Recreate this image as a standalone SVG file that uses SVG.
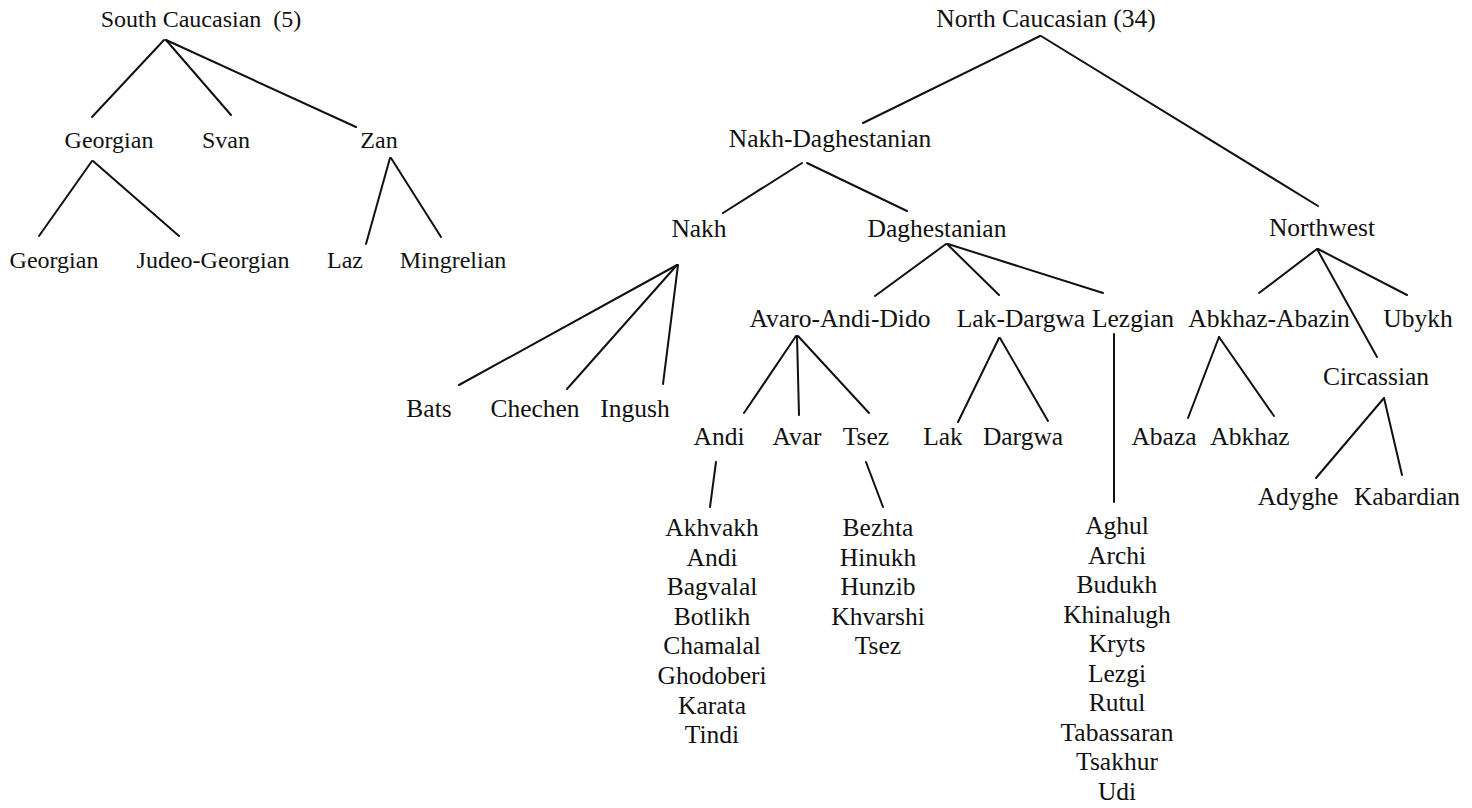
<svg xmlns="http://www.w3.org/2000/svg" width="1472" height="808" viewBox="0 0 1472 808">
<style>
text{font-family:"Liberation Serif","Times New Roman",serif;fill:#111;text-anchor:middle}
.s{font-size:24px}
.n{font-size:25.5px}
#edges line{stroke:#111;stroke-width:2;stroke-linecap:round}
</style>
<rect width="1472" height="808" fill="#fff"/>
<g id="edges">
<line x1="164" y1="40" x2="92" y2="117"/>
<line x1="166" y1="40" x2="231" y2="115"/>
<line x1="166" y1="40" x2="356" y2="127"/>
<line x1="92" y1="161" x2="39" y2="236"/>
<line x1="93" y1="161" x2="179" y2="236"/>
<line x1="390" y1="158" x2="366" y2="244"/>
<line x1="391" y1="158" x2="441" y2="237"/>
<line x1="1040" y1="36" x2="863" y2="123"/>
<line x1="1041" y1="36" x2="1318" y2="206"/>
<line x1="802" y1="163" x2="723" y2="213"/>
<line x1="807" y1="163" x2="907" y2="211"/>
<line x1="946" y1="244" x2="875" y2="296"/>
<line x1="947" y1="244" x2="999" y2="295"/>
<line x1="948" y1="244" x2="1103" y2="293"/>
<line x1="677" y1="265" x2="459" y2="385"/>
<line x1="677" y1="265" x2="567" y2="389"/>
<line x1="678" y1="265" x2="663" y2="384"/>
<line x1="796" y1="336" x2="744" y2="413"/>
<line x1="797" y1="336" x2="799" y2="415"/>
<line x1="798" y1="336" x2="869" y2="413"/>
<line x1="999" y1="338" x2="958" y2="422"/>
<line x1="1000" y1="338" x2="1048" y2="421"/>
<line x1="1114" y1="334" x2="1114" y2="502"/>
<line x1="1317" y1="249" x2="1259" y2="293"/>
<line x1="1317" y1="249" x2="1377" y2="357"/>
<line x1="1318" y1="249" x2="1407" y2="295"/>
<line x1="1219" y1="337" x2="1188" y2="418"/>
<line x1="1219" y1="337" x2="1274" y2="416"/>
<line x1="1384" y1="398" x2="1316" y2="478"/>
<line x1="1384" y1="398" x2="1402" y2="475"/>
<line x1="716" y1="462" x2="710" y2="507"/>
<line x1="866" y1="462" x2="883" y2="507"/>
</g>
<g id="south-caucasian"><text class="s" x="201" y="27" xml:space="preserve">South Caucasian  (5)</text></g>
<g id="georgian-branch"><text class="s" x="109" y="148">Georgian</text></g>
<g id="svan"><text class="s" x="226" y="148">Svan</text></g>
<g id="zan"><text class="s" x="379" y="148">Zan</text></g>
<g id="georgian"><text class="s" x="54" y="268">Georgian</text></g>
<g id="judeo-georgian"><text class="s" x="213" y="268">Judeo-Georgian</text></g>
<g id="laz"><text class="s" x="345" y="268">Laz</text></g>
<g id="mingrelian"><text class="s" x="453" y="268">Mingrelian</text></g>

<g id="north-caucasian"><text class="n" x="1046" y="27">North Caucasian (34)</text></g>
<g id="nakh-daghestanian"><text class="n" x="830" y="147">Nakh-Daghestanian</text></g>
<g id="nakh"><text class="n" x="699" y="237">Nakh</text></g>
<g id="daghestanian"><text class="n" x="937" y="237">Daghestanian</text></g>
<g id="northwest"><text class="n" x="1322" y="236">Northwest</text></g>
<g id="avaro-andi-dido"><text class="n" x="840" y="327">Avaro-Andi-Dido</text></g>
<g id="lak-dargwa"><text class="n" x="1021" y="327">Lak-Dargwa</text></g>
<g id="lezgian"><text class="n" x="1133" y="327">Lezgian</text></g>
<g id="abkhaz-abazin"><text class="n" x="1269" y="327">Abkhaz-Abazin</text></g>
<g id="ubykh"><text class="n" x="1418" y="327">Ubykh</text></g>
<g id="circassian"><text class="n" x="1376" y="385">Circassian</text></g>
<g id="bats"><text class="n" x="429" y="417">Bats</text></g>
<g id="chechen"><text class="n" x="535" y="417">Chechen</text></g>
<g id="ingush"><text class="n" x="635" y="417">Ingush</text></g>
<g id="andi-group"><text class="n" x="719" y="445">Andi</text></g>
<g id="avar"><text class="n" x="797" y="445">Avar</text></g>
<g id="tsez-group"><text class="n" x="866" y="445">Tsez</text></g>
<g id="lak"><text class="n" x="943" y="445">Lak</text></g>
<g id="dargwa"><text class="n" x="1023" y="445">Dargwa</text></g>
<g id="abaza"><text class="n" x="1164" y="445">Abaza</text></g>
<g id="abkhaz"><text class="n" x="1250" y="445">Abkhaz</text></g>
<g id="adyghe"><text class="n" x="1298" y="505">Adyghe</text></g>
<g id="kabardian"><text class="n" x="1407" y="505">Kabardian</text></g>
<g id="andi-list">
<text class="n" x="712" y="536">Akhvakh</text>
<text class="n" x="712" y="565.6">Andi</text>
<text class="n" x="712" y="595.2">Bagvalal</text>
<text class="n" x="712" y="624.8">Botlikh</text>
<text class="n" x="712" y="654.4">Chamalal</text>
<text class="n" x="712" y="684">Ghodoberi</text>
<text class="n" x="712" y="713.6">Karata</text>
<text class="n" x="712" y="743.2">Tindi</text>
</g>
<g id="tsez-list">
<text class="n" x="878" y="536">Bezhta</text>
<text class="n" x="878" y="565.6">Hinukh</text>
<text class="n" x="878" y="595.2">Hunzib</text>
<text class="n" x="878" y="624.8">Khvarshi</text>
<text class="n" x="878" y="654.4">Tsez</text>
</g>
<g id="lezgian-list">
<text class="n" x="1117" y="534">Aghul</text>
<text class="n" x="1117" y="563.5">Archi</text>
<text class="n" x="1117" y="593">Budukh</text>
<text class="n" x="1117" y="622.5">Khinalugh</text>
<text class="n" x="1117" y="652">Kryts</text>
<text class="n" x="1117" y="681.5">Lezgi</text>
<text class="n" x="1117" y="711">Rutul</text>
<text class="n" x="1117" y="740.5">Tabassaran</text>
<text class="n" x="1117" y="770">Tsakhur</text>
<text class="n" x="1117" y="799.5">Udi</text>
</g>
</svg>
